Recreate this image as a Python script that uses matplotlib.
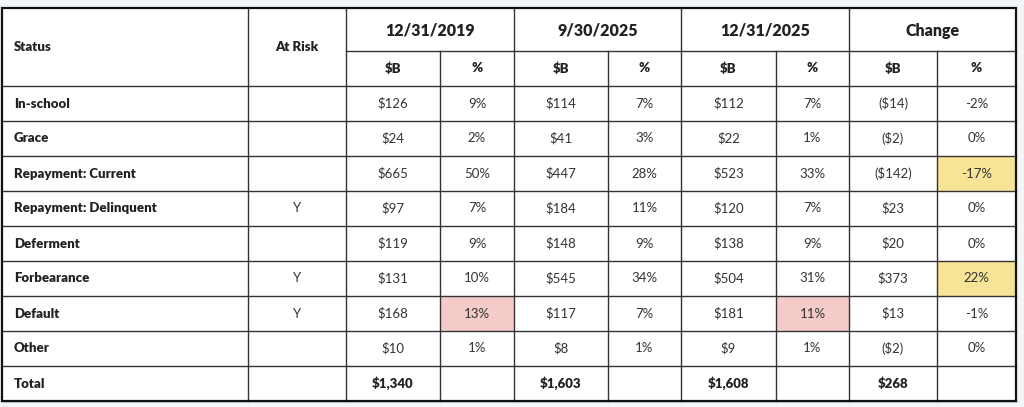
import matplotlib
matplotlib.use("Agg")
from matplotlib import pyplot as plt
from matplotlib.patches import Rectangle

plt.rcParams["font.family"] = ["Lato", "DejaVu Sans"]

periods = ["12/31/2019", "9/30/2025", "12/31/2025", "Change"]
statuses = ["In-school", "Grace", "Repayment: Current", "Repayment: Delinquent",
            "Deferment", "Forbearance", "Default", "Other"]
at_risk = ["", "", "", "Y", "", "Y", "Y", ""]

bal_2019 = ["$126", "$24", "$665", "$97", "$119", "$131", "$168", "$10"]
pct_2019 = ["9%", "2%", "50%", "7%", "9%", "10%", "13%", "1%"]
bal_2025q3 = ["$114", "$41", "$447", "$184", "$148", "$545", "$117", "$8"]
pct_2025q3 = ["7%", "3%", "28%", "11%", "9%", "34%", "7%", "1%"]
bal_2025q4 = ["$112", "$22", "$523", "$120", "$138", "$504", "$181", "$9"]
pct_2025q4 = ["7%", "1%", "33%", "7%", "9%", "31%", "11%", "1%"]
bal_change = ["($14)", "($2)", "($142)", "$23", "$20", "$373", "$13", "($2)"]
pct_change = ["-2%", "0%", "-17%", "0%", "0%", "22%", "-1%", "0%"]
totals = ["$1,340", "$1,603", "$1,608", "$268"]

# highlighted cells: (row index, data column index)
pink_cells = [(6, 1), (6, 5)]
yellow_cells = [(2, 7), (5, 7)]

# layout in pixels
col_edges = [2, 248, 346, 440, 514, 608, 681, 776, 849, 937, 1016]
top, h1, h2, row_h = 8, 51, 86, 35
text_color = "#222222"
body_color = "#333333"
line_color = "#333333"
bold = "heavy"

fig = plt.figure(figsize=(10.24, 4.07), dpi=100, facecolor="#f3f6f9")
ax = fig.add_axes([0, 0, 1, 1])
ax.set_xlim(0, 1024)
ax.set_ylim(407, 0)
ax.axis("off")

n_rows = len(statuses) + 1
bottom = h2 + n_rows * row_h
ax.add_patch(Rectangle((col_edges[0], top), col_edges[-1] - col_edges[0], bottom - top,
                       facecolor="white", edgecolor="none", zorder=0))

columns = [bal_2019, pct_2019, bal_2025q3, pct_2025q3,
           bal_2025q4, pct_2025q4, bal_change, pct_change]

# highlight fills
for color, cells in (("#f4cbc8", pink_cells), ("#f8e496", yellow_cells)):
    for r, c in cells:
        x0, x1 = col_edges[c + 2], col_edges[c + 3]
        y0 = h2 + r * row_h
        ax.add_patch(Rectangle((x0, y0), x1 - x0, row_h, facecolor=color,
                               edgecolor="none", zorder=1))

# header
ax.text(14, (top + h2) / 2, "Status", ha="left", va="center", fontsize=9.5,
        fontweight=bold, color=text_color)
ax.text((col_edges[1] + col_edges[2]) / 2, (top + h2) / 2, "At Risk", ha="center",
        va="center", fontsize=9.5, fontweight=bold, color=text_color)
for i, p in enumerate(periods):
    xa, xb = col_edges[2 + 2 * i], col_edges[4 + 2 * i]
    ax.text((xa + xb) / 2, (top + h1) / 2 + 1.5, p, ha="center", va="center",
            fontsize=11.5, fontweight=bold, color=text_color)
    for j, sub in enumerate(["$B", "%"]):
        xc = (col_edges[2 + 2 * i + j] + col_edges[3 + 2 * i + j]) / 2
        ax.text(xc, (h1 + h2) / 2, sub, ha="center", va="center", fontsize=9.5,
                fontweight=bold, color=text_color)

# body
for r, status in enumerate(statuses):
    yc = h2 + r * row_h + row_h / 2
    ax.text(14, yc, status, ha="left", va="center", fontsize=9.5, fontweight=bold,
            color=text_color)
    ax.text((col_edges[1] + col_edges[2]) / 2, yc, at_risk[r], ha="center",
            va="center", fontsize=9.5, color=body_color)
    for c, col in enumerate(columns):
        xc = (col_edges[c + 2] + col_edges[c + 3]) / 2
        ax.text(xc, yc, col[r], ha="center", va="center", fontsize=9.5,
                color=body_color)

# totals row
yc = h2 + len(statuses) * row_h + row_h / 2
ax.text(14, yc, "Total", ha="left", va="center", fontsize=9.5, fontweight=bold,
        color=text_color)
for i, t in enumerate(totals):
    xc = (col_edges[2 + 2 * i] + col_edges[3 + 2 * i]) / 2
    ax.text(xc, yc, t, ha="center", va="center", fontsize=9.5, fontweight=bold,
            color=text_color)

# grid lines
lw = 1.0
ax.plot([col_edges[2], col_edges[-1]], [h1, h1], color=line_color, lw=lw, zorder=2)
for k in range(n_rows + 1):
    y = h2 + k * row_h
    ax.plot([col_edges[0], col_edges[-1]], [y, y], color=line_color, lw=lw, zorder=2)
for i, x in enumerate(col_edges[1:-1], start=1):
    y_start = h1 if (i >= 3 and i % 2 == 1) else top
    ax.plot([x, x], [y_start, bottom], color=line_color, lw=lw, zorder=2)

ax.add_patch(Rectangle((col_edges[0], top), col_edges[-1] - col_edges[0], bottom - top,
                       facecolor="none", edgecolor="#111111", lw=1.6, zorder=3))

fig.savefig("out.png", dpi=100, facecolor=fig.get_facecolor())
